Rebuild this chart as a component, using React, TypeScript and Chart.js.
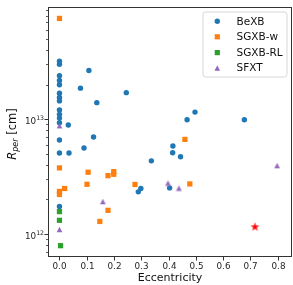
import React, { useEffect, useRef } from 'react';
import { Chart, registerables } from 'chart.js';

Chart.register(...registerables);

// ---------- data ----------
const seriesNames = ['BeXB', 'SGXB-w', 'SGXB-RL', 'SFXT'];

const beXBEcc = [0, 0, 0, 0, 0, 0, 0, 0, 0, 0, 0, 0, 0, 0, 0,
  0.0325, 0.108, 0.077, 0.137, 0.125, 0.09, 0.035, 0.245, 0.497, 0.468, 0.678,
  0.416, 0.415, 0.444, 0.337, 0.404, 0.2985, 0.289];
const beXBRper = [3.2e13, 3.0e13, 2.39e13, 2.17e13, 1.99e13, 1.68e13, 1.54e13, 1.44e13, 1.2e13, 1.1e13,
  1.02e13, 9.3e12, 6.56e12, 5.06e12, 1.73e12,
  8.87e12, 2.65e13, 1.86e13, 1.39e13, 6.97e12, 5.6e12, 5.06e12, 1.7e13, 1.15e13, 9.87e12, 9.87e12,
  5.82e12, 5.09e12, 4.7e12, 4.32e12, 2.51e12, 2.48e12, 2.32e12];

const sgxbWEcc = [0, 0.46, 0.478, 0, 0.105, 0.178, 0.199, 0.199, 0.101, 0.277, 0.019, 0, 0, 0.178, 0.148];
const sgxbWRper = [7.55e13, 6.65e12, 2.72e12, 3.75e12, 3.44e12, 3.21e12, 3.48e12, 3.3e12, 2.7e12, 2.69e12,
  2.48e12, 2.34e12, 2.2e12, 1.6e12, 1.28e12];

const sgxbRLEcc = [0, 0, 0.004];
const sgxbRLRper = [1.56e12, 1.31e12, 7.87e11];

const sfxtEcc = [0, 0.798, 0.398, 0.438, 0.159, 0];
const sfxtRper = [8.75e12, 3.93e12, 2.77e12, 2.5e12, 1.91e12, 1.09e12];

const starEcc = [0.717];
const starRper = [1.15e12];

const xTicks = [0, 0.1, 0.2, 0.3, 0.4, 0.5, 0.6, 0.7, 0.8];
const xTickLabels = ['0.0', '0.1', '0.2', '0.3', '0.4', '0.5', '0.6', '0.7', '0.8'];
const yMajorTicks = [1e12, 1e13];
const yMajorExponents = ['12', '13'];
const yMinorTicks = [7e11, 8e11, 9e11, 2e12, 3e12, 4e12, 5e12, 6e12, 7e12, 8e12, 9e12,
  2e13, 3e13, 4e13, 5e13, 6e13, 7e13, 8e13, 9e13];

const colors = ['#1f77b4', '#ff7f0e', '#2ca02c', '#9467bd'];
const starColor = '#ff0000';

const FONT = '"DejaVu Sans", sans-serif';

function toPoints(xs: number[], ys: number[]) {
  return xs.map((x, i) => ({ x, y: ys[i] }));
}

function makeTriangle(color: string) {
  const c = document.createElement('canvas');
  c.width = 7; c.height = 7;
  const g = c.getContext('2d')!;
  g.fillStyle = color;
  g.beginPath();
  g.moveTo(3.5, 0.8);
  g.lineTo(6.3, 6.2);
  g.lineTo(0.7, 6.2);
  g.closePath();
  g.fill();
  return c;
}

function makeStar(color: string) {
  const c = document.createElement('canvas');
  c.width = 11; c.height = 11;
  const g = c.getContext('2d')!;
  g.fillStyle = color;
  g.beginPath();
  const cx = 5.5, cy = 5.8, R = 4.7, r = R * 0.382;
  for (let i = 0; i < 10; i++) {
    const a = -Math.PI / 2 + (i * Math.PI) / 5;
    const rad = i % 2 === 0 ? R : r;
    const px = cx + Math.cos(a) * rad;
    const py = cy + Math.sin(a) * rad;
    if (i === 0) g.moveTo(px, py); else g.lineTo(px, py);
  }
  g.closePath();
  g.fill();
  return c;
}

function drawLegendMarker(ctx: CanvasRenderingContext2D, i: number, x: number, y: number) {
  ctx.fillStyle = colors[i];
  ctx.beginPath();
  if (i === 0) {
    ctx.arc(x, y, 2.7, 0, Math.PI * 2);
  } else if (i === 1 || i === 2) {
    ctx.rect(x - 2.6, y - 2.6, 5.2, 5.2);
  } else {
    ctx.moveTo(x, y - 2.7);
    ctx.lineTo(x + 2.8, y + 2.7);
    ctx.lineTo(x - 2.8, y + 2.7);
    ctx.closePath();
  }
  ctx.fill();
}

const decorPlugin = {
  id: 'decor',
  afterDraw(chart: any) {
    const { ctx, chartArea: a, scales } = chart;
    const xs = scales.x;
    const ys = scales.y;
    ctx.save();
    const ink = '#262626';
    // frame
    ctx.strokeStyle = '#333';
    ctx.lineWidth = 1;
    ctx.strokeRect(48.5, 7.5, 243, 249);

    // x ticks
    ctx.fillStyle = ink;
    ctx.font = `8.8px ${FONT}`;
    ctx.textAlign = 'center';
    ctx.textBaseline = 'middle';
    xTicks.forEach((v, i) => {
      const px = Math.round(xs.getPixelForValue(v)) + 0.5;
      ctx.beginPath();
      ctx.moveTo(px, 257);
      ctx.lineTo(px, 260.5);
      ctx.stroke();
      ctx.fillText(xTickLabels[i], px, 267);
    });

    // y ticks
    yMajorTicks.forEach((v, i) => {
      const py = Math.round(ys.getPixelForValue(v)) + 0.5;
      ctx.beginPath();
      ctx.moveTo(48, py);
      ctx.lineTo(44.5, py);
      ctx.stroke();
      ctx.textAlign = 'right';
      ctx.textBaseline = 'alphabetic';
      ctx.font = `6.2px ${FONT}`;
      const ew = ctx.measureText(yMajorExponents[i]).width;
      ctx.fillText(yMajorExponents[i], 44, py);
      ctx.font = `8.8px ${FONT}`;
      ctx.fillText('10', 44 - ew, py + 4.5);
    });
    ctx.lineWidth = 0.8;
    yMinorTicks.forEach((v) => {
      const py = Math.round(ys.getPixelForValue(v)) + 0.5;
      if (py < a.top || py > a.bottom) return;
      ctx.beginPath();
      ctx.moveTo(48, py);
      ctx.lineTo(46, py);
      ctx.stroke();
    });

    // x title
    ctx.font = `11px ${FONT}`;
    ctx.textAlign = 'center';
    ctx.textBaseline = 'alphabetic';
    ctx.fillStyle = '#111';
    ctx.fillText('Eccentricity', 170, 281);

    // y title: R_per [cm]
    ctx.save();
    ctx.translate(16, 134);
    ctx.rotate(-Math.PI / 2);
    ctx.textAlign = 'left';
    const fMain = `11.5px ${FONT}`;
    const fItal = `italic 11.5px ${FONT}`;
    const fSub = `italic 8px ${FONT}`;
    ctx.font = fItal; const wR = ctx.measureText('R').width;
    ctx.font = fSub; const wS = ctx.measureText('per').width;
    ctx.font = fMain; const wC = ctx.measureText(' [cm]').width;
    let lx = -(wR + wS + wC) / 2;
    ctx.font = fItal; ctx.fillText('R', lx, 0); lx += wR;
    ctx.font = fSub; ctx.fillText('per', lx, 2); lx += wS;
    ctx.font = fMain; ctx.fillText(' [cm]', lx, 0);
    ctx.restore();

    // legend
    const bx = 203, by = 12, bw = 84, bh = 65, rr = 2.5;
    ctx.beginPath();
    ctx.moveTo(bx + rr, by);
    ctx.arcTo(bx + bw, by, bx + bw, by + bh, rr);
    ctx.arcTo(bx + bw, by + bh, bx, by + bh, rr);
    ctx.arcTo(bx, by + bh, bx, by, rr);
    ctx.arcTo(bx, by, bx + bw, by, rr);
    ctx.closePath();
    ctx.fillStyle = 'rgba(255,255,255,0.8)';
    ctx.fill();
    ctx.strokeStyle = '#d6d6d6';
    ctx.lineWidth = 1;
    ctx.stroke();
    const rows = [21.3, 36.8, 52.6, 68];
    seriesNames.forEach((name, i) => {
      drawLegendMarker(ctx, i, 217.3, rows[i]);
      ctx.fillStyle = '#111';
      ctx.font = `10.5px ${FONT}`;
      ctx.textAlign = 'left';
      ctx.textBaseline = 'middle';
      ctx.fillText(name, 236.5, rows[i] + 0.5);
    });
    ctx.restore();
  },
};

export default function App() {
  const ref = useRef<HTMLCanvasElement | null>(null);
  useEffect(() => {
    if (!ref.current) return;
    const tri = makeTriangle(colors[3]);
    const star = makeStar(starColor);
    const chart = new Chart(ref.current, {
      type: 'scatter',
      data: {
        datasets: [
          { label: seriesNames[0], data: toPoints(beXBEcc, beXBRper), backgroundColor: colors[0], borderWidth: 0, pointRadius: 2.7, pointStyle: 'circle', order: 5 },
          { label: seriesNames[1], data: toPoints(sgxbWEcc, sgxbWRper), backgroundColor: colors[1], borderWidth: 0, pointRadius: 3.7, pointStyle: 'rect', order: 4 },
          { label: seriesNames[2], data: toPoints(sgxbRLEcc, sgxbRLRper), backgroundColor: colors[2], borderWidth: 0, pointRadius: 3.7, pointStyle: 'rect', order: 3 },
          { label: seriesNames[3], data: toPoints(sfxtEcc, sfxtRper), backgroundColor: colors[3], borderWidth: 0, pointRadius: 3.5, pointStyle: tri, order: 2 },
          { label: 'star', data: toPoints(starEcc, starRper), backgroundColor: starColor, borderWidth: 0, pointRadius: 5, pointStyle: star, order: 1 },
        ] as any,
      },
      options: {
        animation: false,
        responsive: false,
        devicePixelRatio: 1,
        layout: { padding: { left: 48, top: 7, right: 1, bottom: 28 } },
        plugins: { legend: { display: false }, tooltip: { enabled: false } },
        scales: {
          x: { type: 'linear', min: -0.042, max: 0.838, display: false },
          y: { type: 'logarithmic', min: 6.27e11, max: 9.49e13, display: false },
        },
      },
      plugins: [decorPlugin],
    });
    return () => chart.destroy();
  }, []);
  return (
    <div style={{ position: 'fixed', left: 0, top: 0, width: 293, height: 285, background: '#fff' }}>
      <canvas ref={ref} width={293} height={285} style={{ display: 'block' }} />
    </div>
  );
}
